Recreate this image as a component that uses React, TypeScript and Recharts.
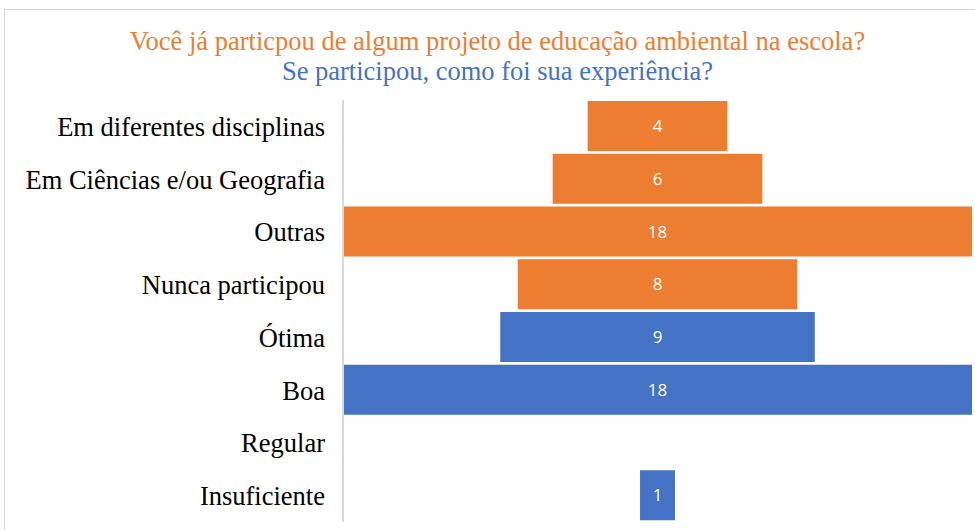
import { BarChart, Bar, XAxis, YAxis, Cell, LabelList } from "recharts";

const categories = [
  "Em diferentes disciplinas",
  "Em Ciências e/ou Geografia",
  "Outras",
  "Nunca participou",
  "Ótima",
  "Boa",
  "Regular",
  "Insuficiente",
];
const values = [4, 6, 18, 8, 9, 18, 0, 1];
const groups = ["part", "part", "part", "part", "exp", "exp", "exp", "exp"];

const MAX = 18;
const ORANGE = "#ED7D31";
const BLUE = "#4472C4";
const SERIF = "'Times New Roman', 'Liberation Serif', Tinos, serif";

const rows = categories.map((name, i) => ({
  name,
  value: values[i],
  offset: (MAX - values[i]) / 2,
  group: groups[i],
}));

export default function App() {
  return (
    <div
      style={{
        position: "absolute",
        left: 0,
        top: 0,
        width: 975,
        height: 530,
        background: "#fff",
        overflow: "hidden",
      }}
    >
      <div
        style={{
          position: "absolute",
          left: 4,
          top: 9,
          right: 0,
          bottom: 0,
          borderTop: "1px solid #d9d9d9",
          borderLeft: "1px solid #d9d9d9",
        }}
      />
      <div
        style={{
          position: "absolute",
          left: 0,
          width: 995,
          top: 26,
          textAlign: "center",
          fontFamily: SERIF,
          fontSize: 26.5,
          lineHeight: "30px",
        }}
      >
        <div style={{ color: ORANGE }}>Você já particpou de algum projeto de educação ambiental na escola?</div>
        <div style={{ color: BLUE }}>Se participou, como foi sua experiência?</div>
      </div>
      <div style={{ position: "absolute", left: 0, top: 0 }}>
        <BarChart
          width={975}
          height={530}
          data={rows}
          layout="vertical"
          margin={{ top: 100, right: 3, bottom: 8, left: 0 }}
          barSize={50}
        >
          <XAxis type="number" domain={[0, MAX]} hide />
          <YAxis
            type="category"
            dataKey="name"
            width={343}
            tickLine={false}
            tickSize={0}
            tickMargin={18}
            axisLine={{ stroke: "#d9d9d9", strokeWidth: 2 }}
            tick={{ fill: "#000", fontSize: 26.5, fontFamily: SERIF }}
            interval={0}
          />
          <Bar dataKey="offset" stackId="a" fill="transparent" isAnimationActive={false} />
          <Bar dataKey="value" stackId="a" isAnimationActive={false}>
            {rows.map((r) => (
              <Cell key={r.name} fill={r.group === "part" ? ORANGE : BLUE} />
            ))}
            <LabelList
              dataKey="value"
              position="center"
              fill="#fff"
              fontSize={17}
              fontFamily="'Open Sans', sans-serif"
              formatter={(v: number) => (v ? v : "")}
            />
          </Bar>
        </BarChart>
      </div>
    </div>
  );
}
